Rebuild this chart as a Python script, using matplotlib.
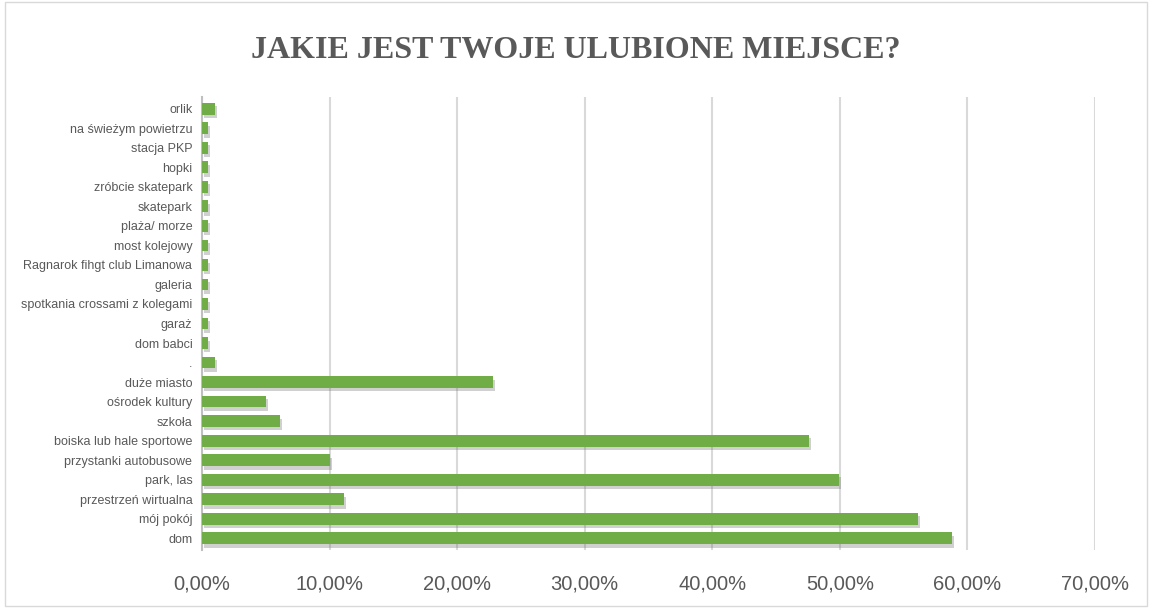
import matplotlib
matplotlib.use("Agg")
import matplotlib.pyplot as plt
import matplotlib.patheffects as pe
from matplotlib.ticker import FuncFormatter, MultipleLocator
from matplotlib.patches import Rectangle

categories = ["dom", "mój pokój", "przestrzeń wirtualna", "park, las",
              "przystanki autobusowe", "boiska lub hale sportowe", "szkoła",
              "ośrodek kultury", "duże miasto", ".", "dom babci", "garaż",
              "spotkania crossami z kolegami", "galeria",
              "Ragnarok fihgt club Limanowa", "most kolejowy", "plaża/ morze",
              "skatepark", "zróbcie skatepark", "hopki", "stacja PKP",
              "na świeżym powietrzu", "orlik"]
values = [58.8, 56.1, 11.1, 49.9, 10.0, 47.6, 6.1, 5.0, 22.8, 1.0,
          0.5, 0.5, 0.5, 0.5, 0.5, 0.5, 0.5, 0.5, 0.5, 0.5, 0.5, 0.5, 1.0]
title = "JAKIE JEST TWOJE ULUBIONE MIEJSCE?"

fig = plt.figure(figsize=(11.52, 6.08), dpi=100)
ax = fig.add_axes([202/1152, 1 - 550/608, (1095-202)/1152, (550-97)/608])

pos = list(range(len(categories)))
bars = ax.barh(pos, values, height=0.6, color="#70ad47", zorder=3)
for b in bars:
    b.set_path_effects([pe.SimplePatchShadow(offset=(1.5, -2.5), shadow_rgbFace="#666666", alpha=0.3),
                        pe.Normal()])

ax.set_xlim(0, 70)
ax.set_ylim(-0.6, len(categories) - 0.4)
ax.xaxis.set_major_locator(MultipleLocator(10))
ax.xaxis.set_major_formatter(FuncFormatter(lambda v, p: f"{v:.2f}%".replace(".", ",")))
ax.set_yticks(pos)
ax.set_yticklabels(categories)
ax.grid(axis="x", color="#d9d9d9", linewidth=1.5, zorder=0)
for s in ["top", "right", "bottom"]:
    ax.spines[s].set_visible(False)
ax.spines["left"].set_color("#bfbfbf")
ax.spines["left"].set_linewidth(1.5)
ax.tick_params(axis="both", length=0, colors="#595959")
ax.tick_params(axis="x", labelsize=14.5, pad=18)
ax.tick_params(axis="y", labelsize=9, pad=7)
for t in ax.get_xticklabels() + ax.get_yticklabels():
    t.set_family(["Liberation Sans Narrow", "Liberation Sans", "DejaVu Sans"])

fig.text(0.5, 1 - 50/608, title, ha="center", va="center", fontsize=23,
         fontweight="bold", color="#595959", family=["Liberation Serif", "DejaVu Serif"])

fig.patches.append(Rectangle((0.004, 0.004), 0.992, 0.992, transform=fig.transFigure,
                             fill=False, edgecolor="#d9d9d9", linewidth=1))

fig.savefig("out.png", dpi=100)
